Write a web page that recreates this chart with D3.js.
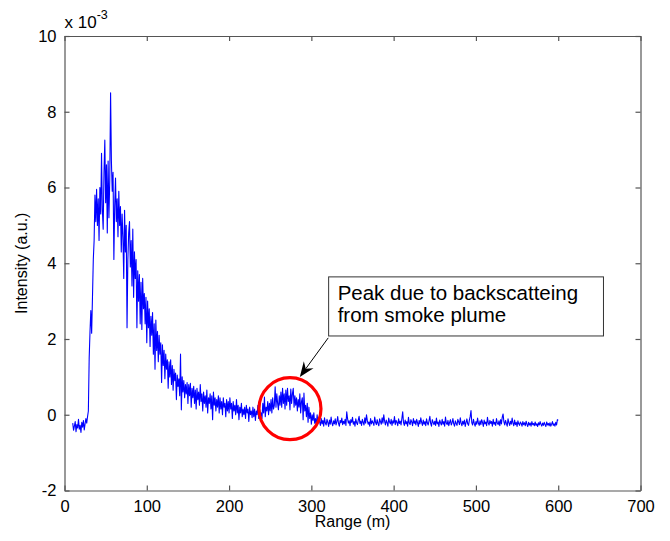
<!DOCTYPE html>
<html>
<head>
<meta charset="utf-8">
<script src="https://cdn.jsdelivr.net/npm/d3@7"></script>
<style>
  body { margin: 0; background: #fff; }
  svg text { font-family: Arial, "Liberation Sans", Helvetica, sans-serif; }
</style>
</head>
<body>
<div id="chart"></div>
<script>
// Sample grid (m) and intensity (units of 1e-3)
const rangeStart = 10;
const rangeStep = 1;
const intensity = [
  // 10 m
  -0.22,-0.41,-0.30,-0.18,-0.45,-0.26,-0.35,-0.12,-0.38,-0.28,
  -0.47,-0.20,-0.33,-0.15,-0.40,-0.24,-0.10,-0.22,-0.05,0.10,
  1.50,2.20,2.75,2.15,3.10,4.10,4.60,5.80,5.10,5.95,
  5.00,5.70,4.60,6.00,5.30,6.90,5.40,4.90,6.40,7.25,
  5.60,6.60,4.80,6.70,5.20,6.20,8.50,6.70,5.90,6.40,
  4.10,5.50,6.25,5.10,5.70,4.70,5.90,5.00,5.50,4.30,
  5.30,4.70,3.60,5.40,4.30,5.00,2.30,4.10,4.80,5.10,
  3.90,4.60,3.40,4.90,3.10,4.30,3.60,4.10,2.30,3.80,
  3.00,3.70,2.40,3.50,2.25,3.60,2.80,3.20,2.40,3.10,
  // 100 m
  1.90,3.00,2.30,2.80,1.80,2.60,2.10,2.70,1.60,2.40,
  1.20,2.50,1.70,2.20,1.40,2.10,1.60,1.90,0.85,1.85,
  1.30,1.70,0.95,1.60,1.20,1.45,0.70,1.40,1.00,1.45,
  0.80,1.30,0.65,1.20,0.90,1.10,0.40,1.05,0.75,0.95,
  0.50,1.60,0.13,1.00,0.60,0.90,0.45,0.80,0.55,0.85,
  0.30,0.80,0.50,0.83,0.20,0.70,0.45,0.75,0.30,0.65,
  0.15,0.70,0.40,0.60,0.25,0.80,0.35,0.55,0.10,0.60,
  0.30,0.50,0.20,0.65,0.05,0.45,0.30,0.55,0.15,0.50,
  -0.13,0.60,0.25,0.45,0.10,0.40,0.20,0.50,0.05,0.45,
  0.15,0.35,0.00,0.45,0.20,0.30,-0.05,0.40,0.10,0.35,
  // 200 m
  0.05,0.45,0.15,0.30,-0.10,0.35,0.10,0.25,0.00,0.40,
  0.05,0.25,-0.13,0.20,0.05,0.30,-0.05,0.15,0.00,0.20,
  -0.10,0.25,0.05,0.15,-0.18,0.20,0.00,0.10,-0.08,0.20,
  -0.05,0.15,-0.15,0.10,0.00,0.25,-0.10,0.15,-0.05,0.05,
  -0.10,0.30,0.05,0.47,-0.05,0.20,0.10,0.35,0.00,0.30,
  0.10,0.40,0.05,0.45,0.15,0.25,0.74,0.20,0.55,0.30,
  0.13,0.50,0.25,0.60,0.20,0.70,0.30,0.55,0.15,0.65,
  0.25,0.70,0.35,0.50,0.13,0.68,0.30,0.55,0.70,0.20,
  0.50,0.25,0.45,0.10,0.40,0.20,0.55,0.05,0.35,0.45,
  -0.13,0.57,0.10,0.25,-0.05,0.30,-0.20,0.20,-0.10,0.05,
  // 300 m
  -0.25,0.00,-0.15,0.05,-0.22,-0.10,-0.27,0.00,-0.20,-0.12,
  -0.18,-0.28,-0.10,-0.24,-0.15,-0.30,-0.08,-0.22,-0.27,-0.12,
  -0.20,-0.31,-0.14,-0.25,-0.06,-0.22,-0.29,-0.16,-0.24,-0.11,
  -0.27,-0.18,-0.05,-0.23,-0.30,-0.15,-0.21,-0.09,-0.26,-0.17,
  -0.24,-0.12,-0.28,0.08,-0.10,-0.22,-0.16,-0.29,-0.13,-0.20,
  -0.07,-0.25,-0.18,-0.30,-0.11,-0.21,-0.26,-0.14,-0.04,-0.23,
  -0.17,-0.28,-0.12,-0.20,-0.27,-0.08,-0.22,0.00,-0.15,-0.25,
  -0.19,-0.30,-0.10,-0.24,-0.16,-0.21,-0.28,-0.06,-0.20,-0.26,
  -0.13,-0.23,-0.29,-0.11,-0.18,-0.25,-0.08,-0.22,0.00,-0.17,
  -0.27,-0.14,-0.21,-0.30,-0.09,-0.19,-0.24,-0.12,-0.28,-0.16,
  // 400 m
  -0.22,-0.05,-0.26,-0.15,-0.20,-0.29,-0.11,-0.23,-0.17,-0.27,
  -0.10,0.08,-0.21,-0.28,-0.14,-0.24,-0.18,-0.30,-0.07,-0.22,
  -0.26,-0.13,-0.19,-0.29,-0.10,-0.23,-0.16,-0.27,-0.12,-0.21,
  -0.31,-0.15,-0.24,-0.08,-0.20,-0.28,-0.14,-0.25,-0.18,-0.29,
  -0.11,-0.22,-0.27,-0.16,-0.04,-0.23,-0.30,-0.13,-0.20,-0.26,
  -0.17,-0.28,-0.09,-0.24,-0.19,-0.31,-0.14,-0.21,-0.27,-0.12,
  -0.25,-0.18,-0.30,-0.06,-0.22,-0.26,-0.15,-0.29,-0.20,-0.13,
  -0.27,-0.21,-0.10,-0.24,-0.30,-0.16,-0.23,-0.28,-0.12,-0.19,
  -0.26,-0.08,-0.22,-0.29,-0.17,-0.25,-0.14,-0.31,-0.20,-0.11,
  -0.24,-0.28,-0.15,-0.05,0.11,-0.21,-0.27,-0.12,-0.23,-0.30,
  // 500 m
  -0.18,-0.25,-0.09,-0.22,-0.28,-0.16,-0.26,-0.13,-0.20,-0.31,
  -0.14,-0.24,-0.19,-0.29,-0.07,-0.21,-0.27,-0.15,-0.23,-0.18,
  -0.30,-0.12,-0.25,-0.20,-0.28,-0.10,-0.22,-0.26,-0.16,-0.29,
  -0.13,-0.24,-0.06,0.02,-0.19,-0.27,-0.15,-0.23,-0.30,-0.11,
  -0.21,-0.28,-0.17,-0.25,-0.09,-0.22,-0.29,-0.14,-0.26,-0.20,
  -0.31,-0.16,-0.24,-0.28,-0.19,-0.23,-0.30,-0.18,-0.26,-0.21,
  -0.29,-0.17,-0.25,-0.31,-0.20,-0.27,-0.22,-0.30,-0.18,-0.26,
  -0.23,-0.29,-0.19,-0.28,-0.24,-0.31,-0.21,-0.27,-0.18,-0.25,
  -0.30,-0.22,-0.28,-0.20,-0.26,-0.31,-0.19,-0.27,-0.23,-0.29,
  -0.21,-0.30,-0.25,-0.18,-0.28,-0.24,-0.30,-0.20,-0.27,-0.13,
  // 600 m
  -0.15
];
const rangeTicks = [0, 100, 200, 300, 400, 500, 600, 700];
const intensityTicks = [-2, 0, 2, 4, 6, 8, 10];
const noteLines = ["Peak due to backscatteing", "from smoke plume"];

const W = 670, H = 541;
const margin = { top: 36, right: 29.5, bottom: 50.5, left: 64.5 };
const width = W - margin.left - margin.right;
const height = H - margin.top - margin.bottom;

const data = intensity.map((v, i) => ({ r: rangeStart + i * rangeStep, v }));

const x = d3.scaleLinear().domain([0, 700]).range([0, width]);
const y = d3.scaleLinear().domain([-2, 10]).range([height, 0]);

const svg = d3.select('#chart').append('svg')
    .attr('width', W).attr('height', H);

const g = svg.append('g')
    .attr('transform', `translate(${margin.left},${margin.top})`);

const axisColor = '#555';

// Signal
g.append('path')
    .datum(data)
    .attr('fill', 'none')
    .attr('stroke', '#0000ff')
    .attr('stroke-width', 1.1)
    .attr('stroke-linejoin', 'round')
    .attr('d', d3.line().x(d => x(d.r)).y(d => y(d.v)));

// Axes (MATLAB-like box with inward ticks, plain hyphen minus)
const tick = 5;
const fmt = d => String(d);
const axBottom = g.append('g').attr('transform', `translate(0,${height})`)
    .call(d3.axisBottom(x).tickValues(rangeTicks).tickFormat(fmt).tickSizeInner(-tick).tickSizeOuter(0).tickPadding(10));
const axTop = g.append('g')
    .call(d3.axisTop(x).tickValues(rangeTicks).tickSizeInner(-tick).tickSizeOuter(0).tickFormat(''));
const axLeft = g.append('g')
    .call(d3.axisLeft(y).tickValues(intensityTicks).tickFormat(fmt).tickSizeInner(-tick).tickSizeOuter(0).tickPadding(8));
const axRight = g.append('g').attr('transform', `translate(${width},0)`)
    .call(d3.axisRight(y).tickValues(intensityTicks).tickSizeInner(-tick).tickSizeOuter(0).tickFormat(''));

[axBottom, axTop, axLeft, axRight].forEach(a => {
    a.attr('font-family', null).attr('font-size', null);
    a.select('.domain').attr('stroke', axisColor).attr('stroke-width', 1.2);
    a.selectAll('.tick line').attr('stroke', axisColor).attr('stroke-width', 1.2);
    a.selectAll('.tick text').attr('fill', '#000').style('font-size', '16.5px');
});

// Exponent label
const expo = svg.append('text')
    .attr('x', margin.left).attr('y', 28)
    .style('font-size', '17px').attr('fill', '#000');
expo.append('tspan').text('x 10');
expo.append('tspan').attr('dy', -9).style('font-size', '12.5px').text('-3');

// Axis titles
svg.append('text')
    .attr('x', margin.left + width / 2).attr('y', 527)
    .attr('text-anchor', 'middle')
    .style('font-size', '16px')
    .text('Range (m)');

svg.append('text')
    .attr('transform', `translate(27,${margin.top + height / 2}) rotate(-90)`)
    .attr('text-anchor', 'middle')
    .style('font-size', '16px')
    .text('Intensity (a.u.)');

// Annotation: circle around the plume peak
g.append('ellipse')
    .attr('cx', x(274)).attr('cy', y(0.16))
    .attr('rx', 31).attr('ry', 31)
    .attr('fill', 'none')
    .attr('stroke', '#ff0000')
    .attr('stroke-width', 3.2);

// Text box
const bx0 = x(321), bx1 = x(655), by0 = y(3.64), by1 = y(2.08);
g.append('rect')
    .attr('x', bx0).attr('y', by0)
    .attr('width', bx1 - bx0).attr('height', by1 - by0)
    .attr('fill', '#fff')
    .attr('stroke', '#333')
    .attr('stroke-width', 1);

g.selectAll('.note')
    .data(noteLines)
    .enter().append('text')
    .attr('class', 'note')
    .attr('x', bx0 + 9)
    .attr('y', (d, i) => by0 + 23 + i * 22)
    .style('font-size', '20.5px')
    .text(d => d);

// Arrow
const ax0 = x(320.5), ay0 = y(2.03), ax1 = x(286), ay1 = y(1.0);
const ang = Math.atan2(ay1 - ay0, ax1 - ax0);
const hl = 15, hw = 6, notch = 10;
const ux = Math.cos(ang), uy = Math.sin(ang);
const px = -uy, py = ux;
g.append('line')
    .attr('x1', ax0).attr('y1', ay0)
    .attr('x2', ax1 - ux * notch).attr('y2', ay1 - uy * notch)
    .attr('stroke', '#000').attr('stroke-width', 1);
g.append('path')
    .attr('d', `M${ax1},${ay1}
        L${ax1 - ux * hl + px * hw},${ay1 - uy * hl + py * hw}
        L${ax1 - ux * notch},${ay1 - uy * notch}
        L${ax1 - ux * hl - px * hw},${ay1 - uy * hl - py * hw}Z`)
    .attr('fill', '#000');
</script>
</body>
</html>
